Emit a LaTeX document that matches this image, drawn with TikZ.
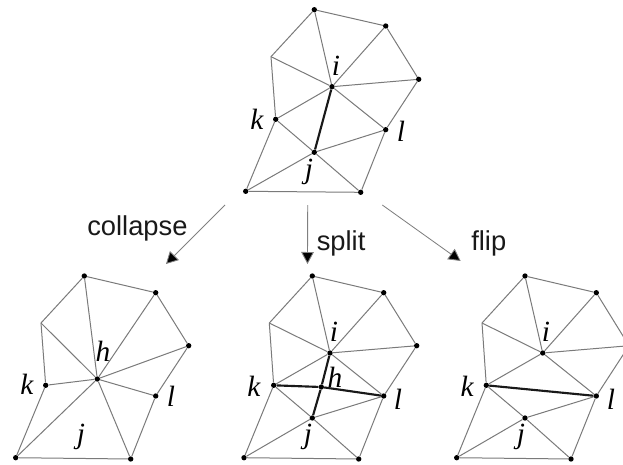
\documentclass[tikz,border=0pt]{standalone}
\usepackage{fontspec}
\setmainfont{Liberation Serif}
\newfontfamily\labelfont{Liberation Sans}
\usetikzlibrary{arrows.meta}
\tikzset{
  x=0.75pt,y=-0.75pt,
  vertex/.style={circle,fill=black,inner sep=0pt,minimum size=4pt},
  edge/.style={draw=black!52,line width=0.75pt},
  boldedge/.style={draw=black!90,line width=1.6pt},
  flow/.style={draw=black!50,line width=0.65pt,-{Triangle[length=9pt,width=9.5pt,fill=black]}},
  sym/.style={font=\fontsize{22}{22}\selectfont\itshape,inner sep=0pt},
  op/.style={font=\labelfont\fontsize{20.5}{20.5}\selectfont,inner sep=0pt,anchor=base west,text=black!90},
}
\begin{document}
\begin{tikzpicture}
\useasboundingbox (0,0) rectangle (623,464);
\clip (0,0) rectangle (623,464);
% top mesh
\coordinate (tn) at (271,56.7);
\foreach \n/\p in {ta/{314.3,9.7},tb/{385.7,26},tc/{418.7,79.3},tl/{385.7,129.7},tr/{360.7,192.3},ts/{245.7,191.3},tk/{275.7,119.3},ti/{332,86.7},tj/{314.3,152.3}}
  \node[vertex] (\n) at (\p) {};
\draw[edge] (ta)--(tb)--(tc)--(tl)--(tr)--(ts)--(tk)--(tn)--(ta);
\foreach \n in {ta,tb,tc,tl,tn,tk} \draw[edge] (ti)--(\n);
\foreach \n in {tk,tl,tr,ts} \draw[edge] (tj)--(\n);
\draw[boldedge] (ti)--(tj);
\node[sym] at (336,66) {i};
\node[sym] at (257,119) {k};
\node[sym] at (401,131) {l};
\node[sym] at (309,172) {j};
% left mesh
\coordinate (ln) at (41,323);
\foreach \n/\p in {la/{84.3,276},lb/{155.7,292.7},lc/{188.7,345.7},ll/{155.7,396},lr/{130.7,459},ls/{15.7,457.7},lk/{45.7,385.3},lh/{97.3,379}}
  \node[vertex] (\n) at (\p) {};
\draw[edge] (la)--(lb)--(lc)--(ll)--(lr)--(ls)--(lk)--(ln)--(la);
\foreach \n in {la,lb,lc,ll,lr,ls,lk,ln} \draw[edge] (lh)--(\n);
\node[sym] at (103,351) {h};
\node[sym] at (27,384) {k};
\node[sym] at (171,396) {l};
\node[sym] at (81,437) {j};
% middle mesh
\coordinate (mn) at (269.3,323);
\foreach \n/\p in {ma/{312.3,276},mb/{383.7,292.7},mc/{416.7,345.7},ml/{383.7,396},mr/{358.7,459},ms/{244,457.7},mk/{273.7,385.3},mi/{330,353},mj/{312.3,418},mh/{321.3,387}}
  \node[vertex] (\n) at (\p) {};
\draw[edge] (ma)--(mb)--(mc)--(ml)--(mr)--(ms)--(mk)--(mn)--(ma);
\foreach \n in {ma,mb,mc,ml,mn,mk} \draw[edge] (mi)--(\n);
\foreach \n in {mk,ml,mr,ms} \draw[edge] (mj)--(\n);
\draw[boldedge] (mi)--(mh)--(mj);
\draw[boldedge] (mk)--(mh)--(ml);
\node[sym] at (334,332) {i};
\node[sym] at (335,377) {h};
\node[sym] at (254,386) {k};
\node[sym] at (398,399) {l};
\node[sym] at (308,437) {j};
% right mesh
\coordinate (rn) at (482,323);
\coordinate (rc) at (629,345.7);
\foreach \n/\p in {ra/{525,276},rb/{596.3,292.7},rl/{596.3,396},rr/{571,459},rs/{456.7,457.7},rk/{486.3,385.3},ri/{542.7,353},rj/{525,418}}
  \node[vertex] (\n) at (\p) {};
\draw[edge] (ra)--(rb)--(rc)--(rl)--(rr)--(rs)--(rk)--(rn)--(ra);
\foreach \n in {ra,rb,rc,rl,rn,rk} \draw[edge] (ri)--(\n);
\foreach \n in {rk,rl,rr,rs} \draw[edge] (rj)--(\n);
\draw[boldedge] (rk)--(rl);
\node[sym] at (546,332) {i};
\node[sym] at (467,386) {k};
\node[sym] at (611,399) {l};
\node[sym] at (521,437) {j};
% operation arrows
\coordinate (cs) at (225,205);
\coordinate (ce) at (166,264);
\coordinate (ss) at (307.7,205);
\coordinate (se) at (307.5,264);
\coordinate (fs) at (382.3,205);
\coordinate (fe) at (460.7,261);
\draw[flow] (cs)--(ce);
\draw[flow] (ss)--(se);
\draw[flow] (fs)--(fe);
\node[op] at (87,235) {collapse};
\node[op] at (316.5,250) {split};
\node[op] at (471,250) {flip};
\end{tikzpicture}
\end{document}
